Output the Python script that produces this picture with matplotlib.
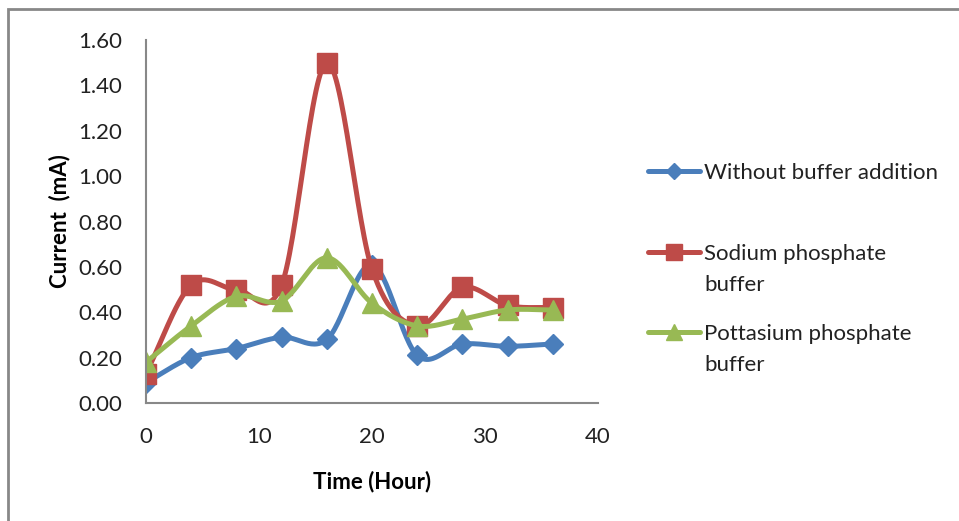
import matplotlib.pyplot as plt
import matplotlib.patches as patches
from matplotlib.lines import Line2D
import numpy as np

plt.rcParams['font.family'] = ['Lato', 'DejaVu Sans']

hours = [0, 4, 8, 12, 16, 20, 24, 28, 32, 36]
no_buffer = [0.09, 0.20, 0.24, 0.29, 0.28, 0.61, 0.21, 0.26, 0.25, 0.26]
sodium = [0.13, 0.52, 0.50, 0.52, 1.50, 0.59, 0.34, 0.51, 0.43, 0.42]
potassium = [0.18, 0.34, 0.47, 0.45, 0.64, 0.44, 0.34, 0.37, 0.41, 0.41]

labels = ['Without buffer addition', 'Sodium phosphate\nbuffer',
          'Pottasium phosphate\nbuffer']
colors = ['#4a7ebb', '#be4b48', '#98b954']
markers = ['D', 's', '^']
msizes = [10, 14.5, 14]

W, H = 959, 521


def smooth(x, y, n=30):
    # Excel-like smoothed line: Catmull-Rom through the points
    x = np.asarray(x, float)
    y = np.asarray(y, float)
    px = np.concatenate([[2 * x[0] - x[1]], x, [2 * x[-1] - x[-2]]])
    py = np.concatenate([[2 * y[0] - y[1]], y, [2 * y[-1] - y[-2]]])
    xs, ys = [], []
    t = np.linspace(0, 1, n)
    for i in range(1, len(px) - 2):
        for p, out in ((px, xs), (py, ys)):
            p0, p1, p2, p3 = p[i - 1], p[i], p[i + 1], p[i + 2]
            out.append(0.5 * (2 * p1 + (-p0 + p2) * t
                              + (2 * p0 - 5 * p1 + 4 * p2 - p3) * t ** 2
                              + (-p0 + 3 * p1 - 3 * p2 + p3) * t ** 3))
    return np.concatenate(xs), np.concatenate(ys)


fig = plt.figure(figsize=(W / 100, H / 100), dpi=100)
ax = fig.add_axes([146 / W, 1 - 403 / H, (598 - 146) / W, (403 - 40) / H])

for ys, c, m, ms in zip([no_buffer, sodium, potassium], colors, markers, msizes):
    sx, sy = smooth(hours, ys)
    ax.plot(sx, sy, color=c, linewidth=3.6, solid_capstyle='round')
    ax.plot(hours, ys, linestyle='none', marker=m, markersize=ms, color=c)

ax.set_xlim(0, 40)
ax.set_ylim(0, 1.6)
ax.set_xticks([0, 10, 20, 30, 40])
ax.set_yticks(np.arange(0, 1.61, 0.2))
ax.yaxis.set_major_formatter(plt.FormatStrFormatter('%.2f'))
ax.tick_params(length=0, labelsize=16, colors='#222222')
ax.tick_params(axis='y', pad=17)
ax.tick_params(axis='x', pad=17)
for s in ['top', 'right']:
    ax.spines[s].set_visible(False)
for s in ['left', 'bottom']:
    ax.spines[s].set_color('#888888')
    ax.spines[s].set_linewidth(1.5)

ax.set_xlabel('Time (Hour)', fontsize=16, fontweight='bold', va='center')
ax.set_ylabel('Current  (mA)', fontsize=16, fontweight='bold', va='center')
ax.xaxis.set_label_coords(0.5, -(482 - 403) / 363)
ax.yaxis.set_label_coords((60 - 146) / 452, 0.5)

# legend, laid out like the Excel one
leg_y = [171, 252, 332]
for lab, c, m, ms, y in zip(labels, colors, markers, msizes, leg_y):
    fy = 1 - y / H
    fig.lines.append(Line2D([648 / W, 700 / W], [fy, fy], transform=fig.transFigure,
                            color=c, linewidth=3.6, solid_capstyle='round'))
    fig.lines.append(Line2D([674 / W], [fy], transform=fig.transFigure,
                            color=c, marker=m, markersize=ms * 0.8, linestyle='none'))
    fig.text(704 / W, fy + 8 / H, lab, fontsize=16, color='#222222',
             va='top', ha='left', linespacing=1.7)

fig.patches.append(patches.Rectangle((8 / W, -0.1), 1.2, 1 - 9 / H + 0.1,
                                     transform=fig.transFigure, fill=False,
                                     edgecolor='#888888', linewidth=2))

fig.savefig('out.png', dpi=100)
